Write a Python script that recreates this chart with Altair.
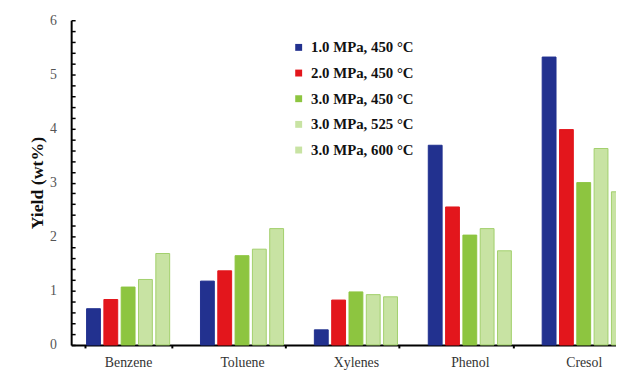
import altair as alt
import pandas as pd

categories = ["Benzene", "Toluene", "Xylenes", "Phenol", "Cresol"]
series = ["1.0 MPa, 450 °C", "2.0 MPa, 450 °C", "3.0 MPa, 450 °C",
          "3.0 MPa, 525 °C", "3.0 MPa, 600 °C"]
s1 = [0.67, 1.18, 0.28, 3.69, 5.32]
s2 = [0.84, 1.37, 0.83, 2.55, 3.98]
s3 = [1.07, 1.65, 0.98, 2.03, 3.00]
s4 = [1.21, 1.77, 0.93, 2.15, 3.63]
s5 = [1.69, 2.15, 0.89, 1.74, 2.83]
values = [s1, s2, s3, s4, s5]

fill_colors = ["#22318f", "#e3161c", "#8dc540", "#c8e3a3", "#c8e3a3"]
stroke_colors = ["#22318f", "#e3161c", "#8dc540", "#a2cf6c", "#a2cf6c"]
minor_ticks = [round(i * 0.2, 1) for i in range(31)]

rows = []
for s, vals in zip(series, values):
    for c, v in zip(categories, vals):
        rows.append({"category": c, "series": s, "yield": v})
df = pd.DataFrame(rows)

FONT = "Liberation Serif"
W = 552
H = 329

x_enc = alt.X("category:N", sort=categories, title=None,
              scale=alt.Scale(range=[0, 577], paddingInner=0.24, paddingOuter=0.12),
              axis=alt.Axis(labelAngle=0, labelFont=FONT, labelFontSize=14,
                            labelColor="#333333", labelPadding=8,
                            tickBand="extent", tickSize=3, tickWidth=2,
                            tickColor="black", domainColor="black",
                            domainWidth=2))

bars = alt.Chart(df).mark_bar(strokeWidth=1).encode(
    x=x_enc,
    xOffset=alt.XOffset("series:N", sort=series,
                        scale=alt.Scale(paddingInner=0.2, paddingOuter=0.1)),
    y=alt.Y("yield:Q", title="Yield (wt%)",
            scale=alt.Scale(domain=[0, 6], nice=False),
            axis=alt.Axis(values=[0, 1, 2, 3, 4, 5, 6], format="d",
                          grid=False, tickSize=0, labelPadding=15,
                          labelFont=FONT, labelFontSize=14,
                          labelColor="#555555", titleFont=FONT,
                          titleFontSize=18, titleFontWeight="bold",
                          titleColor="#111111", titlePadding=3,
                          domainColor="black", domainWidth=2)),
    fill=alt.Fill("series:N",
                  scale=alt.Scale(domain=series, range=fill_colors),
                  legend=alt.Legend(title=None, orient="none",
                                    legendX=223, legendY=20,
                                    symbolType="square", symbolSize=49,
                                    symbolStrokeWidth=0,
                                    labelFont=FONT, labelFontSize=15,
                                    labelFontWeight="bold",
                                    labelColor="#111111", labelOffset=5,
                                    rowPadding=10, padding=0)),
    stroke=alt.Stroke("series:N",
                      scale=alt.Scale(domain=series, range=stroke_colors),
                      legend=None),
)

minor = alt.Chart(df).mark_rule(opacity=0).encode(
    y=alt.Y("yield:Q",
            scale=alt.Scale(domain=[0, 6], nice=False),
            axis=alt.Axis(orient="right", offset=-W, values=minor_ticks,
                          labels=False, domain=False, grid=False,
                          tickSize=4, tickWidth=1.5, tickColor="black",
                          title=None)),
)

chart = alt.layer(bars, minor).resolve_axis(y="independent").properties(
    width=W, height=H,
    autosize=alt.AutoSizeParams(type="none"),
    padding={"left": 64, "top": 10, "right": 0, "bottom": 26},
).configure_view(stroke=None)

chart.save("out.html", embed_options={"renderer": "svg", "actions": False})
